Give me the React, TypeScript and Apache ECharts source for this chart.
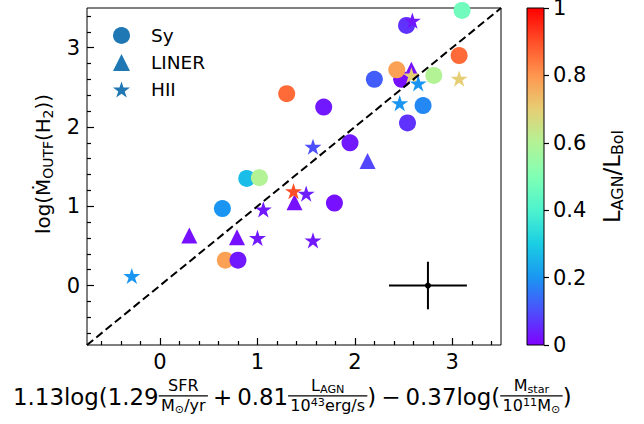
import { useEffect, useRef } from "react";
import * as echarts from "echarts";

const FONT = '"DejaVu Sans", sans-serif';

// Sy (circles): x, log Mdot, L_AGN/L_Bol
const syX = [3.10, 2.53, 3.07, 2.48, 2.43, 2.81, 2.20, 1.30, 1.68, 2.70, 2.54, 1.95, 0.89, 1.02, 0.64, 1.79, 0.67, 0.80];
const syY = [3.47, 3.28, 2.90, 2.60, 2.72, 2.65, 2.60, 2.42, 2.25, 2.27, 2.05, 1.80, 1.35, 1.36, 0.97, 1.04, 0.32, 0.32];
const syC = [0.47, 0.065, 0.86, 0.02, 0.78, 0.60, 0.12, 0.86, 0.03, 0.18, 0.065, 0.03, 0.27, 0.60, 0.20, 0.02, 0.78, 0.03];

// LINER (triangles)
const linX = [2.58, 2.13, 1.38, 0.30, 0.79];
const linY = [2.72, 1.57, 1.05, 0.63, 0.61];
const linC = [0.02, 0.09, 0.02, 0.02, 0.02];

// HII (stars)
const hiiX = [2.59, 2.58, 2.65, 3.07, 2.46, 1.57, 1.37, 1.50, 1.06, 1.00, 1.57, -0.29];
const hiiY = [3.34, 2.65, 2.55, 2.61, 2.30, 1.75, 1.19, 1.16, 0.96, 0.60, 0.57, 0.12];
const hiiC = [0.03, 0.70, 0.20, 0.70, 0.20, 0.10, 0.90, 0.04, 0.03, 0.03, 0.03, 0.20];

// 1:1 line and typical error bar
const oneToOneX = [-0.75, 3.5];
const oneToOneY = [-0.75, 3.5];
const errCenter = [2.75, 0];
const errSize = [0.4, 0.3];

const majorTicks = [0, 1, 2, 3];
const minorTicks = [-0.6, -0.4, -0.2, 0.2, 0.4, 0.6, 0.8, 1.2, 1.4, 1.6, 1.8, 2.2, 2.4, 2.6, 2.8, 3.2, 3.4];

// matplotlib "rainbow" colormap, sampled every 0.1
const rainbow = ["#8000ff", "#4d4ffc", "#1a96f2", "#1acee3", "#4df3ce", "#80ffb4", "#b3f396", "#e6ce74", "#ff964f", "#ff4f28", "#ff0000"];

const STAR =
    "path://M50,0L61.23,34.55L97.55,34.55L68.17,55.9L79.39,90.45L50,69.1L20.61,90.45L31.83,55.9L2.45,34.55L38.77,34.55Z";
const LEGEND_BLUE = "#1f77b4";

type Piece =
    | { t: string; s: number; dy?: number }
    | { num: Piece[]; den: Piece[] }
    | { gap: number };

// offsets in units of the main font size, relative to the main text's central line
const FRAC_BAR = -0.05;
const FRAC_NUM = -0.5;
const FRAC_DEN = 0.38;

const xLabel: Piece[] = [
    { t: "1.13log(1.29", s: 1 },
    { num: [{ t: "SFR", s: 0.7 }], den: [{ t: "M", s: 0.7 }, { t: "⊙", s: 0.49, dy: 0.15 }, { t: "/yr", s: 0.7 }] },
    { gap: 0.22 }, { t: "+", s: 1 }, { gap: 0.22 },
    { t: "0.81", s: 1 },
    {
        num: [{ t: "L", s: 0.7 }, { t: "AGN", s: 0.49, dy: 0.15 }],
        den: [{ t: "10", s: 0.7 }, { t: "43", s: 0.49, dy: -0.15 }, { t: "erg/s", s: 0.7 }],
    },
    { t: ")", s: 1 }, { gap: 0.22 }, { t: "−", s: 1 }, { gap: 0.22 },
    { t: "0.37log(", s: 1 },
    {
        num: [{ t: "M", s: 0.7 }, { t: "star", s: 0.49, dy: 0.15 }],
        den: [{ t: "10", s: 0.7 }, { t: "11", s: 0.49, dy: -0.15 }, { t: "M", s: 0.7 }, { t: "⊙", s: 0.49, dy: 0.15 }],
    },
    { t: ")", s: 1 },
];

const yLabel: Piece[] = [
    { t: "log(Ṁ", s: 1 },
    { t: "OUTF", s: 0.7, dy: 0.25 },
    { t: "(H", s: 1 },
    { t: "2", s: 0.7, dy: 0.25 },
    { t: "))", s: 1 },
];

const cbarLabel: Piece[] = [
    { t: "L", s: 1 },
    { t: "AGN", s: 0.7, dy: 0.25 },
    { t: "/L", s: 1 },
    { t: "Bol", s: 0.7, dy: 0.25 },
];

function buildMath(pieces: Piece[], F: number, ctx: CanvasRenderingContext2D): { children: any[]; width: number } {
    const children: any[] = [];
    let x = 0;
    for (const p of pieces) {
        if ("gap" in p) {
            x += p.gap * F;
            continue;
        }
        if ("num" in p) {
            const num = buildMath(p.num, F, ctx);
            const den = buildMath(p.den, F, ctx);
            const pad = 0.1 * F;
            const w = Math.max(num.width, den.width) + 2 * pad;
            children.push({ type: "group", x: x + (w - num.width) / 2, y: FRAC_NUM * F, children: num.children });
            children.push({ type: "group", x: x + (w - den.width) / 2, y: FRAC_DEN * F, children: den.children });
            children.push({
                type: "line",
                shape: { x1: x, y1: FRAC_BAR * F, x2: x + w, y2: FRAC_BAR * F },
                style: { stroke: "#000", lineWidth: Math.max(1, 0.05 * F) },
            });
            x += w;
            continue;
        }
        const size = p.s * F;
        ctx.font = `${size}px "DejaVu Sans"`;
        const w = ctx.measureText(p.t).width;
        children.push({
            type: "text",
            x,
            y: (p.dy || 0) * F,
            style: { text: p.t, fontSize: size, fontFamily: FONT, fill: "#000", align: "left", verticalAlign: "middle" },
        });
        x += w;
    }
    return { children, width: x };
}

function fitMath(pieces: Piece[], length: number, ctx: CanvasRenderingContext2D) {
    const probe = buildMath(pieces, 100, ctx);
    const F = (100 * length) / probe.width;
    return { ...buildMath(pieces, F, ctx), F };
}

const App = () => {
    const chartRef = useRef<HTMLDivElement>(null);

    useEffect(() => {
        if (!chartRef.current) return;
        const chart = echarts.init(chartRef.current, null, { renderer: "svg" });
        const ctx = document.createElement("canvas").getContext("2d") as CanvasRenderingContext2D;

        const xl = fitMath(xLabel, 559, ctx);
        const yl = fitMath(yLabel, 140, ctx);
        const cl = fitMath(cbarLabel, 93, ctx);

        const tickLine = { color: "#000", width: 1.2 };
        const tickFont = { fontSize: 21, color: "#000", fontFamily: FONT };

        const mainAxis = (dim: "x" | "y") => [
            {
                gridIndex: 0,
                type: "value",
                min: -0.75,
                max: 3.5,
                position: dim === "x" ? "bottom" : "left",
                axisLine: { show: false, onZero: false },
                splitLine: { show: false },
                axisTick: { show: true, inside: true, length: 7, customValues: majorTicks, lineStyle: tickLine },
                axisLabel: { show: true, customValues: majorTicks, margin: dim === "x" ? 6 : 7, ...tickFont },
            },
            {
                gridIndex: 0,
                type: "value",
                min: -0.75,
                max: 3.5,
                position: dim === "x" ? "bottom" : "left",
                axisLine: { show: false, onZero: false },
                splitLine: { show: false },
                axisTick: { show: true, inside: true, length: 4, customValues: minorTicks, lineStyle: tickLine },
                axisLabel: { show: false },
            },
        ];

        const options: any = {
            animation: false,
            textStyle: { fontFamily: FONT },
            grid: [
                {
                    left: 87, top: 8, width: 414, height: 337,
                    show: true, borderColor: "#000", borderWidth: 1, backgroundColor: "transparent",
                    outerBoundsMode: "none",
                },
                { left: 527, top: 8, width: 17, height: 337, outerBoundsMode: "none" },
            ],
            xAxis: [...mainAxis("x"), { gridIndex: 1, type: "value", min: 0, max: 1, show: false }],
            yAxis: [
                ...mainAxis("y"),
                {
                    gridIndex: 1,
                    type: "value",
                    min: 0,
                    max: 1,
                    interval: 0.2,
                    position: "right",
                    axisLine: { show: false, onZero: false },
                    splitLine: { show: false },
                    axisTick: { show: true, inside: false, length: 5, lineStyle: tickLine },
                    axisLabel: { show: true, margin: 9, ...tickFont },
                },
            ],
            visualMap: {
                type: "continuous",
                show: false,
                min: 0,
                max: 1,
                dimension: 2,
                seriesIndex: [0, 1, 2],
                inRange: { color: rainbow },
            },
            legend: {
                orient: "vertical",
                left: 113,
                top: 26,
                padding: 0,
                itemWidth: 17,
                itemHeight: 17,
                itemGap: 8,
                selectedMode: false,
                formatter: (name: string) => `{gap|}{txt|${name}}`,
                textStyle: {
                    fontSize: 18.5,
                    color: "#000",
                    fontFamily: FONT,
                    rich: {
                        gap: { width: 16 },
                        txt: { fontSize: 18.5, color: "#000", fontFamily: FONT },
                    },
                },
                data: [
                    { name: "Sy", icon: "circle", itemStyle: { color: LEGEND_BLUE } },
                    { name: "LINER", icon: "triangle", itemStyle: { color: LEGEND_BLUE } },
                    { name: "HII", icon: STAR, itemStyle: { color: LEGEND_BLUE } },
                ],
            },
            series: [
                {
                    name: "Sy",
                    type: "scatter",
                    symbol: "circle",
                    symbolSize: 17,
                    itemStyle: { color: LEGEND_BLUE, opacity: 1 },
                    data: syX.map((x, i) => [x, syY[i], syC[i]]),
                    z: 2,
                },
                {
                    name: "LINER",
                    type: "scatter",
                    symbol: "triangle",
                    symbolSize: 16,
                    itemStyle: { color: LEGEND_BLUE, opacity: 1 },
                    data: linX.map((x, i) => [x, linY[i], linC[i]]),
                    z: 2,
                },
                {
                    name: "HII",
                    type: "scatter",
                    symbol: STAR,
                    symbolSize: 17,
                    symbolKeepAspect: true,
                    itemStyle: { color: LEGEND_BLUE, opacity: 1 },
                    data: hiiX.map((x, i) => [x, hiiY[i], hiiC[i]]),
                    z: 2,
                },
                {
                    type: "line",
                    data: oneToOneX.map((x, i) => [x, oneToOneY[i]]),
                    showSymbol: false,
                    symbol: "none",
                    silent: true,
                    lineStyle: { color: "#000", width: 2, type: [8, 4] },
                    z: 5,
                },
                {
                    type: "custom",
                    silent: true,
                    z: 5,
                    data: [[errCenter[0], errCenter[1], errSize[0], errSize[1]]],
                    renderItem: (_params: any, api: any) => {
                        const x = api.value(0);
                        const y = api.value(1);
                        const ex = api.value(2);
                        const ey = api.value(3);
                        const c = api.coord([x, y]);
                        const l = api.coord([x - ex, y]);
                        const r = api.coord([x + ex, y]);
                        const t = api.coord([x, y + ey]);
                        const b = api.coord([x, y - ey]);
                        const st = { stroke: "#000", lineWidth: 2 };
                        return {
                            type: "group",
                            children: [
                                { type: "line", shape: { x1: l[0], y1: l[1], x2: r[0], y2: r[1] }, style: st },
                                { type: "line", shape: { x1: t[0], y1: t[1], x2: b[0], y2: b[1] }, style: st },
                                { type: "circle", shape: { cx: c[0], cy: c[1], r: 3 }, style: { fill: "#000" } },
                            ],
                        };
                    },
                },
            ],
            graphic: [
                {
                    type: "rect",
                    shape: { x: 527, y: 8, width: 17, height: 337 },
                    style: {
                        fill: new echarts.graphic.LinearGradient(
                            0, 1, 0, 0,
                            rainbow.map((color, i) => ({ offset: i / (rainbow.length - 1), color }))
                        ),
                        stroke: "#000",
                        lineWidth: 1,
                    },
                    z: 1,
                },
                { type: "group", x: 13, y: 405 - 0.346 * xl.F, children: xl.children },
                {
                    type: "group",
                    x: 50 - 0.346 * yl.F,
                    y: 164 + yl.width / 2,
                    rotation: Math.PI / 2,
                    children: yl.children,
                },
                {
                    type: "group",
                    x: 620 - 0.346 * cl.F,
                    y: 176.5 + cl.width / 2,
                    rotation: Math.PI / 2,
                    children: cl.children,
                },
            ],
        };

        chart.setOption(options);
        return () => {
            chart.dispose();
        };
    }, []);

    return (
        <div
            ref={chartRef}
            style={{ position: "fixed", left: 0, top: 0, width: "644px", height: "424px", background: "#fff" }}
        />
    );
};

export default App;
